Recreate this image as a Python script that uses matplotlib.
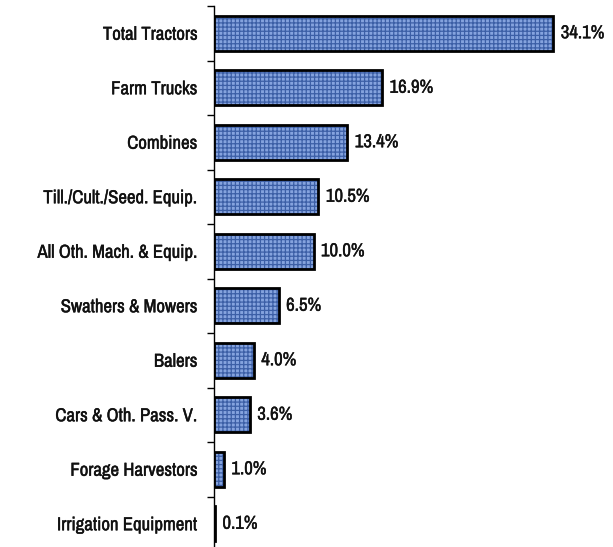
import matplotlib.pyplot as plt
import matplotlib.patheffects as pe

categories = ['Total Tractors', 'Farm Trucks', 'Combines', 'Till./Cult./Seed. Equip.',
              'All Oth. Mach. & Equip.', 'Swathers & Mowers', 'Balers',
              'Cars & Oth. Pass. V.', 'Forage Harvestors', 'Irrigation Equipment']
shares = [34.1, 16.9, 13.4, 10.5, 10.0, 6.5, 4.0, 3.6, 1.0, 0.1]

plt.rcParams['font.family'] = ['Archivo Narrow', 'DejaVu Sans']
plt.rcParams['hatch.linewidth'] = 0.9

fig = plt.figure(figsize=(6.13, 5.47), dpi=100)
ax = fig.add_axes([214 / 613, -4 / 547, 398 / 613, 545 / 547])

ypos = list(range(len(categories)))
# textured fill, then black outline on top
ax.barh(ypos, shares, height=0.64, color='#85a3de', edgecolor='#3c5fa6',
        linewidth=0, hatch='++++', zorder=2)
ax.barh(ypos, shares, height=0.64, color='none', edgecolor='black',
        linewidth=2, zorder=3)

# slightly heavier text, the original looks like a bold narrow face
heavy = [pe.withStroke(linewidth=0.3, foreground='#111111')]

for y, v in zip(ypos, shares):
    ax.text(v + 0.75, y, f'{v:.1f}%', va='center', ha='left',
            fontsize=13.5, color='#111111', path_effects=heavy)

ax.set_ylim(len(categories) - 0.5, -0.5)
ax.set_xlim(0, 40)
ax.set_yticks([y + 0.5 for y in ypos[:-1]] + [-0.5])
ax.set_yticklabels([])
ax.set_yticks(ypos, minor=True)
ax.set_yticklabels(categories, minor=True, fontsize=13.5, color='#111111')
for lbl in ax.get_yticklabels(minor=True):
    lbl.set_path_effects(heavy)
ax.tick_params(axis='y', which='major', length=5, width=1, direction='out')
ax.tick_params(axis='y', which='minor', length=0, pad=12)
ax.set_xticks([])
for s in ['top', 'right', 'bottom']:
    ax.spines[s].set_visible(False)
ax.spines['left'].set_linewidth(1)

fig.savefig('out.png', dpi=100)
